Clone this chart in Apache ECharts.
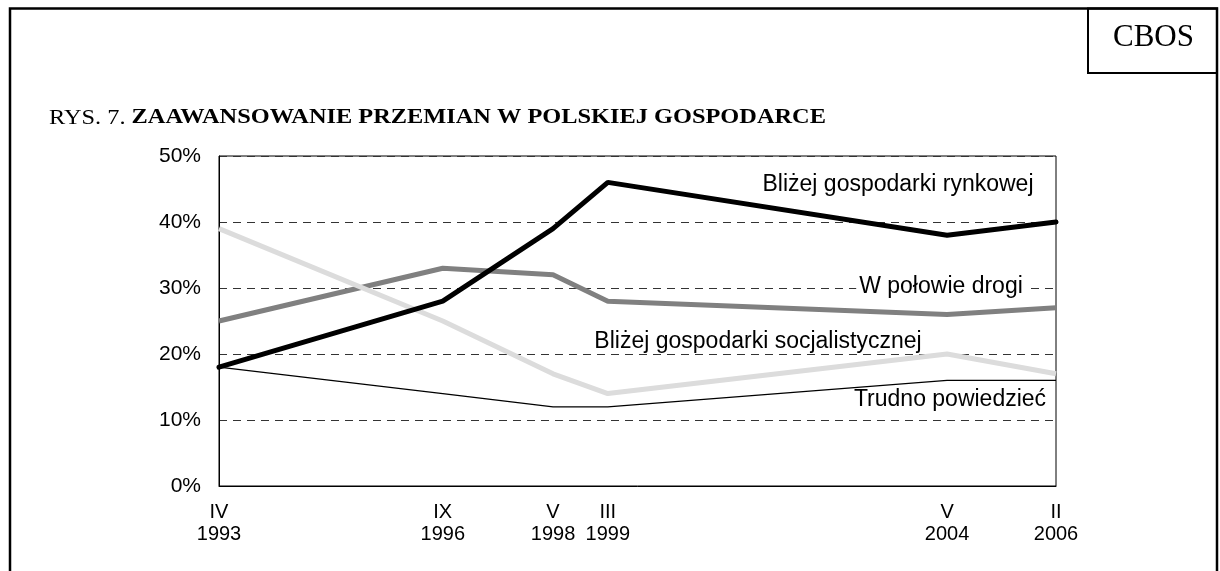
<!DOCTYPE html>
<html>
<head>
<meta charset="utf-8">
<script src="https://cdn.jsdelivr.net/npm/echarts@6/dist/echarts.min.js"></script>
<style>
  html, body { margin: 0; padding: 0; background: #fff; }
  #chart { width: 1220px; height: 571px; }
</style>
</head>
<body>
<div id="chart"></div>
<script>
// survey dates as decimal years
const surveyDates = [1993.25, 1996.68, 1998.37, 1999.21, 2004.41, 2006.08];
const monthLabels = ['IV', 'IX', 'V', 'III', 'V', 'II'];
const yearLabels = ['1993', '1996', '1998', '1999', '2004', '2006'];

const rynkowej = [18, 28, 39, 46, 38, 40];       // Bliżej gospodarki rynkowej
const polowie = [25, 33, 32, 28, 26, 27];        // W połowie drogi
const socjalistycznej = [39, 25, 17, 14, 20, 17]; // Bliżej gospodarki socjalistycznej
const trudno = [18, 14, 12, 12, 16, 16];         // Trudno powiedzieć

const yTicks = [0, 10, 20, 30, 40, 50];

const chart = echarts.init(document.getElementById('chart'));

const pairs = arr => surveyDates.map((d, i) => [d, arr[i]]);

const sans = '"Liberation Sans", Arial, sans-serif';
const serif = '"Liberation Serif", "Times New Roman", serif';

const option = {
  animation: false,
  backgroundColor: '#fff',
  grid: {
    left: 219, top: 156, right: 164, bottom: 85,
    show: true, borderColor: '#000', borderWidth: 1, backgroundColor: 'transparent'
  },
  xAxis: {
    type: 'value',
    min: surveyDates[0],
    max: surveyDates[surveyDates.length - 1],
    axisLine: { show: true, lineStyle: { color: '#000', width: 1 } },
    axisTick: { show: false },
    splitLine: { show: false },
    axisLabel: {
      customValues: surveyDates,
      margin: 15,
      color: '#000',
      fontFamily: sans,
      fontSize: 20,
      lineHeight: 22,
      formatter: v => {
        const i = surveyDates.indexOf(v);
        return i < 0 ? '' : monthLabels[i] + '\n' + yearLabels[i];
      }
    }
  },
  yAxis: {
    type: 'value',
    min: yTicks[0],
    max: yTicks[yTicks.length - 1],
    interval: 10,
    axisLine: { show: true, lineStyle: { color: '#000', width: 1 } },
    axisTick: { show: false },
    axisLabel: {
      margin: 18, color: '#000', fontFamily: sans, fontSize: 21,
      formatter: '{value}%'
    },
    splitLine: {
      show: true,
      lineStyle: { color: '#333', width: 1, type: [8, 6] }
    }
  },
  series: [
    {
      name: 'W połowie drogi', type: 'line', data: pairs(polowie),
      showSymbol: false, z: 2,
      lineStyle: { color: '#808080', width: 5 }
    },
    {
      name: 'Bliżej gospodarki socjalistycznej', type: 'line', data: pairs(socjalistycznej),
      showSymbol: false, z: 3,
      lineStyle: { color: '#dcdcdc', width: 5 }
    },
    {
      name: 'Trudno powiedzieć', type: 'line', data: pairs(trudno),
      showSymbol: false, z: 4,
      lineStyle: { color: '#000', width: 1.3 }
    },
    {
      name: 'Bliżej gospodarki rynkowej', type: 'line', data: pairs(rynkowej),
      showSymbol: false, z: 5,
      lineStyle: { color: '#000', width: 5, cap: 'round' }
    }
  ],
  graphic: [
    {
      type: 'rect', z: 100, silent: true,
      shape: { x: 10, y: 8.5, width: 1207, height: 600 },
      style: { fill: 'none', stroke: '#000', lineWidth: 2.5 }
    },
    {
      type: 'rect', z: 100, silent: true,
      shape: { x: 1088, y: 8.5, width: 129, height: 64.5 },
      style: { fill: 'none', stroke: '#000', lineWidth: 2 }
    },
    {
      type: 'text', z: 100, left: 1113, top: 22,
      style: { text: 'CBOS', font: '31px ' + serif, fill: '#000' }
    },
    {
      type: 'text', z: 100, x: 49, y: 118, scaleX: 1.16,
      style: {
        text: '{n|RYS. 7. }{b|ZAAWANSOWANIE PRZEMIAN W POLSKIEJ GOSPODARCE}',
        verticalAlign: 'middle',
        rich: {
          n: { fontFamily: serif, fontSize: 21, fill: '#000' },
          b: { fontFamily: serif, fontSize: 21, fontWeight: 'bold', fill: '#000' }
        }
      }
    },
    {
      type: 'text', z: 100, x: 898, y: 185,
      style: { text: 'Bliżej gospodarki rynkowej', font: '23px ' + sans, fill: '#000', align: 'center', verticalAlign: 'middle' }
    },
    {
      type: 'text', z: 100, x: 941, y: 287,
      style: {
        text: 'W połowie drogi', font: '23px ' + sans, fill: '#000', align: 'center', verticalAlign: 'middle',
        backgroundColor: '#fff', padding: [0, 3]
      }
    },
    {
      type: 'text', z: 100, x: 758, y: 342,
      style: { text: 'Bliżej gospodarki socjalistycznej', font: '23px ' + sans, fill: '#000', align: 'center', verticalAlign: 'middle' }
    },
    {
      type: 'text', z: 100, x: 950, y: 400,
      style: { text: 'Trudno powiedzieć', font: '23px ' + sans, fill: '#000', align: 'center', verticalAlign: 'middle' }
    }
  ]
};

chart.setOption(option);
</script>
</body>
</html>
